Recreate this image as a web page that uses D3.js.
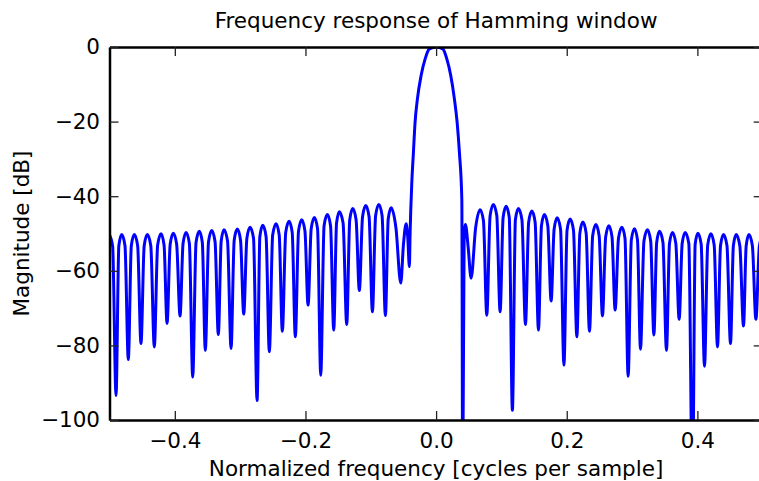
<!DOCTYPE html>
<html>
<head>
<meta charset="utf-8">
<script src="https://cdn.jsdelivr.net/npm/d3@7"></script>
<style>
  body { margin: 0; background: #fff; }
  text { font-family: "DejaVu Sans", sans-serif; fill: #000; }
</style>
</head>
<body>
<svg id="chart" width="759" height="481"></svg>
<script>
// Normalized frequency [cycles per sample] (peaks, lobe shoulders and nulls)
const frequency = [
  -0.5000, -0.4952, -0.4900, -0.4857, -0.4813, -0.4763, -0.4712, -0.4666, -0.4620, -0.4569,
  -0.4518, -0.4469, -0.4421, -0.4368, -0.4314, -0.4263, -0.4211, -0.4165, -0.4119, -0.4071,
  -0.4023, -0.3972, -0.3920, -0.3874, -0.3828, -0.3777, -0.3726, -0.3675, -0.3625, -0.3579,
  -0.3533, -0.3484, -0.3435, -0.3384, -0.3334, -0.3290, -0.3247, -0.3193, -0.3139, -0.3091,
  -0.3043, -0.2994, -0.2945, -0.2897, -0.2848, -0.2795, -0.2741, -0.2698, -0.2654, -0.2603,
  -0.2553, -0.2502, -0.2450, -0.2402, -0.2354, -0.2302, -0.2251, -0.2203, -0.2155, -0.2106,
  -0.2057, -0.2008, -0.1960, -0.1912, -0.1864, -0.1815, -0.1766, -0.1715, -0.1665, -0.1616,
  -0.1567, -0.1524, -0.1481, -0.1424, -0.1368, -0.1322, -0.1276, -0.1225, -0.1175, -0.1126,
  -0.1077, -0.1026, -0.0975, -0.0926, -0.0877, -0.0827, -0.0776, -0.0733, -0.0689, -0.0615,
  -0.0541, -0.0500, -0.0459, -0.0434, -0.0409,
  -0.0398, -0.0372, -0.0348, -0.0322, -0.0286, -0.0230, -0.0168, -0.0103, 0.0000,
  0.0103, 0.0164, 0.0225, 0.0280, 0.0322, 0.0357, 0.0394, 0.0407,
  0.0429, 0.0449, 0.0490, 0.0536, 0.0605, 0.0674, 0.0725, 0.0776, 0.0827, 0.0877,
  0.0929, 0.0980, 0.1026, 0.1072, 0.1120, 0.1168, 0.1214, 0.1260, 0.1314, 0.1368,
  0.1417, 0.1466, 0.1516, 0.1567, 0.1613, 0.1658, 0.1710, 0.1761, 0.1807, 0.1853,
  0.1905, 0.1957, 0.2005, 0.2052, 0.2103, 0.2155, 0.2201, 0.2247, 0.2297, 0.2348,
  0.2397, 0.2446, 0.2496, 0.2547, 0.2596, 0.2645, 0.2693, 0.2741, 0.2792, 0.2844,
  0.2892, 0.2940, 0.2989, 0.3037, 0.3083, 0.3129, 0.3182, 0.3236, 0.3285, 0.3334,
  0.3377, 0.3420, 0.3473, 0.3527, 0.3573, 0.3619, 0.3670, 0.3721, 0.3767, 0.3813,
  0.3869, 0.3925, 0.3966, 0.4008, 0.4058, 0.4109, 0.4158, 0.4207, 0.4257, 0.4308,
  0.4354, 0.4400, 0.4453, 0.4507, 0.4551, 0.4594, 0.4650, 0.4706, 0.4747, 0.4789,
  0.4842, 0.4896, 0.4949, 0.5000
];

// Magnitude [dB] at each frequency above (values below -100 fall outside the axes)
const magnitudeDb = [
  -50.4, -53.4, -93.4, -53.3, -50.3, -53.3, -83.8, -53.3, -50.3, -53.3,
  -79.5, -53.3, -50.3, -53.3, -80.4, -53.1, -50.1, -53.1, -74.1, -52.9,
  -49.9, -52.9, -72.1, -52.7, -49.7, -52.7, -88.5, -52.4, -49.4, -52.4,
  -81.3, -52.2, -49.2, -52.2, -77.1, -52.0, -49.0, -52.0, -80.8, -51.8,
  -48.8, -51.8, -71.6, -51.3, -48.3, -51.3, -94.8, -50.8, -47.8, -50.8,
  -81.7, -50.4, -47.4, -50.4, -76.2, -49.7, -46.7, -49.7, -77.7, -49.3,
  -46.3, -49.3, -69.2, -48.7, -45.7, -48.7, -88.0, -47.9, -44.9, -47.9,
  -75.9, -47.2, -44.2, -47.2, -74.4, -46.3, -43.3, -46.3, -65.3, -45.5,
  -42.5, -45.5, -71.0, -45.2, -42.2, -45.2, -72.0, -46.1, -43.1, -48.5,
  -63.3, -53.0, -47.4, -51.0, -58.9,
  -49.9, -36.4, -28.5, -20.2, -13.9, -7.7, -3.2, -0.5, 0.0,
  -0.5, -3.2, -7.7, -13.9, -20.2, -28.3, -40.9, -120,
  -52.0, -47.6, -53.5, -62.0, -48.5, -43.6, -46.6, -71.9, -45.2, -42.2,
  -45.2, -71.0, -45.7, -42.7, -45.7, -97.4, -46.3, -43.3, -46.3, -74.4,
  -47.0, -44.0, -47.0, -75.9, -47.9, -44.9, -47.9, -68.1, -48.8, -45.8,
  -48.8, -85.3, -49.1, -46.1, -49.1, -77.7, -49.9, -46.9, -49.9, -76.2,
  -50.6, -47.6, -50.6, -72.1, -50.9, -47.9, -50.9, -70.5, -51.3, -48.3,
  -51.3, -88.3, -51.7, -48.7, -51.7, -81.0, -52.0, -49.0, -52.0, -77.2,
  -52.4, -49.4, -52.4, -81.3, -52.7, -49.7, -52.7, -73.0, -52.7, -49.7,
  -52.7, -120, -52.9, -49.9, -52.9, -85.6, -53.1, -50.1, -53.1, -80.4,
  -53.3, -50.3, -53.3, -79.5, -53.3, -50.3, -53.3, -74.8, -53.3, -50.3,
  -53.3, -73.0, -53.4, -50.4
];

const xTicks = [-0.4, -0.2, 0.0, 0.2, 0.4];
const yTicks = [-100, -80, -60, -40, -20, 0];
const xDomain = [-0.5, 0.5];
const yDomain = [-100, 0];
const titleText = "Frequency response of Hamming window";
const xLabelText = "Normalized frequency [cycles per sample]";
const yLabelText = "Magnitude [dB]";

(function draw() {
  const svg = d3.select("#chart");
  const W = 759, H = 481;
  const plotLeft = 109.5, plotRight = 762.7, plotTop = 47, plotBottom = 420;
  const fontSize = 21.5;

  svg.append("rect").attr("width", W).attr("height", H).attr("fill", "#fff");

  const x = d3.scaleLinear().domain(xDomain).range([plotLeft, plotRight]);
  const y = d3.scaleLinear().domain(yDomain).range([plotBottom, plotTop]);

  svg.append("defs").append("clipPath").attr("id", "plotclip")
    .append("rect").attr("x", plotLeft).attr("y", plotTop)
    .attr("width", plotRight - plotLeft).attr("height", plotBottom - plotTop);

  const points = frequency.map((f, i) => [f, magnitudeDb[i]]);

  const line = d3.line()
    .x(d => x(d[0]))
    .y(d => y(d[1]))
    .curve(d3.curveMonotoneX);

  svg.append("path")
    .datum(points)
    .attr("clip-path", "url(#plotclip)")
    .attr("d", line)
    .attr("fill", "none")
    .attr("stroke", "#0000ff")
    .attr("stroke-width", 3)
    .attr("stroke-linejoin", "round");

  const tickLen = 9;
  function styleAxis(g) {
    g.select(".domain").attr("stroke", "#000").attr("stroke-width", 2.5);
    g.selectAll(".tick line").attr("stroke", "#222").attr("stroke-width", 1.3);
    g.selectAll(".tick text").attr("font-size", fontSize).attr("font-family", "DejaVu Sans, sans-serif").attr("fill", "#000");
  }

  svg.append("g").attr("transform", `translate(0,${plotBottom})`)
    .call(d3.axisBottom(x).tickValues(xTicks).tickFormat(d3.format(".1f"))
      .tickSizeInner(-tickLen).tickSizeOuter(0).tickPadding(12.5))
    .call(styleAxis);

  svg.append("g").attr("transform", `translate(0,${plotTop})`)
    .call(d3.axisTop(x).tickValues(xTicks).tickFormat("")
      .tickSizeInner(-tickLen).tickSizeOuter(0))
    .call(styleAxis);

  svg.append("g").attr("transform", `translate(${plotLeft},0)`)
    .call(d3.axisLeft(y).tickValues(yTicks).tickFormat(d3.format("d"))
      .tickSizeInner(-tickLen).tickSizeOuter(0).tickPadding(9.5))
    .call(styleAxis);

  svg.append("g").attr("transform", `translate(${plotRight},0)`)
    .call(d3.axisRight(y).tickValues(yTicks).tickFormat("")
      .tickSizeInner(-tickLen).tickSizeOuter(0))
    .call(styleAxis);

  svg.append("text")
    .attr("x", (plotLeft + plotRight) / 2).attr("y", 28)
    .attr("text-anchor", "middle").attr("font-size", fontSize)
    .text(titleText);

  svg.append("text")
    .attr("x", (plotLeft + plotRight) / 2).attr("y", 476)
    .attr("text-anchor", "middle").attr("font-size", fontSize)
    .text(xLabelText);

  svg.append("text")
    .attr("transform", `translate(29,${(plotTop + plotBottom) / 2}) rotate(-90)`)
    .attr("text-anchor", "middle").attr("font-size", fontSize)
    .text(yLabelText);
})();
</script>
</body>
</html>
